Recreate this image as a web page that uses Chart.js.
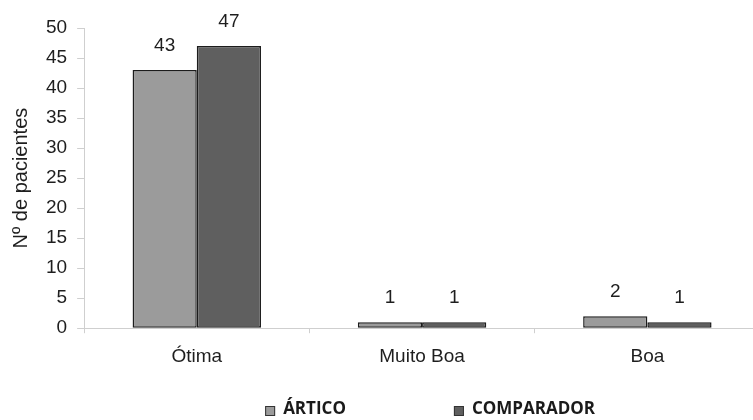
<!DOCTYPE html>
<html>
<head>
<meta charset="utf-8">
<script src="https://cdn.jsdelivr.net/npm/chart.js@4"></script>
<style>
    body { margin: 0; background: #fff; overflow: hidden; }
    #wrap { width: 764px; height: 420px; }
</style>
</head>
<body>
<div id="wrap"><canvas id="rating-chart" width="764" height="420"></canvas></div>
<script>
// Avaliação dos pacientes por grupo
const categories = ['Ótima', 'Muito Boa', 'Boa'];
const articoValues = [43, 1, 2];
const comparadorValues = [47, 1, 1];
const seriesNames = ['ÁRTICO', 'COMPARADOR'];
const seriesColors = ['#9b9b9b', '#5f5f5f'];
const yTicks = [0, 5, 10, 15, 20, 25, 30, 35, 40, 45, 50];

const mainFont = "'Liberation Sans', Arial, sans-serif";

// Numbers over each bar
const valueLabels = {
    id: 'valueLabels',
    afterDatasetsDraw(chart) {
        const ctx = chart.ctx;
        ctx.save();
        ctx.font = '19px ' + mainFont;
        ctx.fillStyle = '#1e1e1e';
        ctx.textAlign = 'center';
        ctx.textBaseline = 'middle';
        chart.data.datasets.forEach((ds, i) => {
            chart.getDatasetMeta(i).data.forEach((bar, j) => {
                ctx.fillText(String(ds.data[j]), bar.x, bar.y - 24);
            });
        });
        ctx.restore();
    }
};

// Legend drawn under the axis labels
const bottomLegend = {
    id: 'bottomLegend',
    afterDraw(chart) {
        const ctx = chart.ctx;
        const area = chart.chartArea;
        const box = 10, gapText = 8, gapItems = 108;
        ctx.save();
        ctx.font = "bold 17px 'Open Sans', sans-serif";
        const widths = chart.data.datasets.map(ds => box + gapText + ctx.measureText(ds.label).width);
        const total = widths.reduce((a, b) => a + b, 0) + gapItems * (widths.length - 1);
        let x = (area.left + area.right) / 2 + 8 - total / 2;
        const y = 409;
        chart.data.datasets.forEach((ds, i) => {
            ctx.fillStyle = ds.backgroundColor;
            ctx.fillRect(x, y - box / 2 + 2, box, box);
            ctx.strokeStyle = '#333';
            ctx.lineWidth = 1;
            ctx.strokeRect(x + 0.5, y - box / 2 + 2.5, box - 1, box - 1);
            ctx.fillStyle = '#1a1a1a';
            ctx.textAlign = 'left';
            ctx.textBaseline = 'middle';
            ctx.fillText(ds.label, x + box + gapText, y);
            x += widths[i] + gapItems;
        });
        ctx.restore();
    }
};

const ctx = document.getElementById('rating-chart').getContext('2d');
new Chart(ctx, {
    type: 'bar',
    data: {
        labels: categories,
        datasets: [
            {
                label: seriesNames[0],
                data: articoValues,
                backgroundColor: seriesColors[0],
                borderColor: '#1c1c1c',
                borderWidth: 1.5,
                borderSkipped: false
            },
            {
                label: seriesNames[1],
                data: comparadorValues,
                backgroundColor: seriesColors[1],
                borderColor: '#1c1c1c',
                borderWidth: 1.5,
                borderSkipped: false
            }
        ]
    },
    options: {
        responsive: false,
        animation: false,
        layout: { padding: { top: 28, right: 4, bottom: 40, left: 5 } },
        datasets: { bar: { categoryPercentage: 0.57, barPercentage: 1 } },
        scales: {
            x: {
                grid: { drawOnChartArea: false, tickLength: 5, color: '#cfcfcf' },
                border: { color: '#cfcfcf' },
                ticks: { font: { family: mainFont, size: 19 }, color: '#1e1e1e', padding: 12 }
            },
            y: {
                min: 0,
                max: 50,
                afterBuildTicks(scale) {
                    scale.ticks = yTicks.map(v => ({ value: v }));
                },
                grid: { drawOnChartArea: false, tickLength: 7, color: '#cfcfcf' },
                border: { color: '#cfcfcf' },
                ticks: { font: { family: mainFont, size: 19 }, color: '#1e1e1e', padding: 10 },
                title: {
                    display: true,
                    text: 'Nº de pacientes',
                    font: { family: mainFont, size: 20 },
                    color: '#1e1e1e',
                    padding: { top: 4, bottom: 3 }
                }
            }
        },
        plugins: {
            legend: { display: false },
            tooltip: { enabled: false }
        }
    },
    plugins: [valueLabels, bottomLegend]
});
</script>
</body>
</html>
